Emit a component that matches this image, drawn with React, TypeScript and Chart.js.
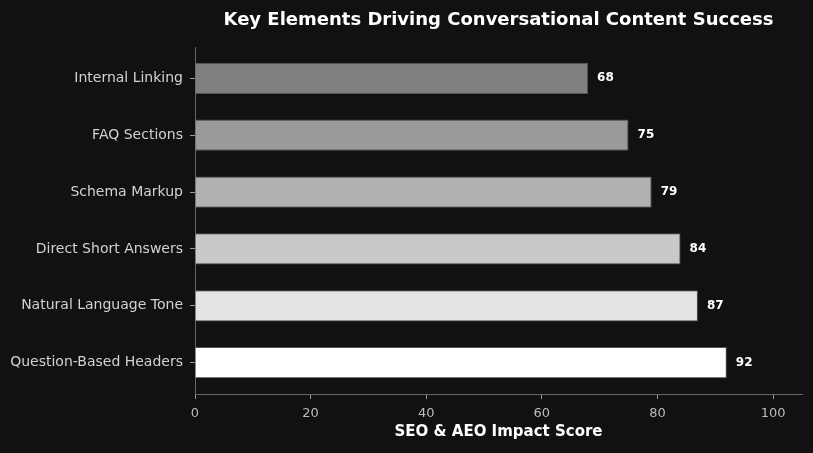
import React, { useEffect, useRef } from "react";
import { Chart, registerables } from "chart.js";

Chart.register(...registerables);

const categories: string[] = [
  "Internal Linking",
  "FAQ Sections",
  "Schema Markup",
  "Direct Short Answers",
  "Natural Language Tone",
  "Question-Based Headers",
];
const scores: number[] = [68, 75, 79, 84, 87, 92];
const barColors: string[] = ["#808080", "#9a9a9a", "#b0b2b2", "#cbc9c7", "#e4e4e4", "#ffffff"];
const xTicks: number[] = [0, 20, 40, 60, 80, 100];

const TITLE = "Key Elements Driving Conversational Content Success";
const X_TITLE = "SEO & AEO Impact Score";
const FONT = "'DejaVu Sans', sans-serif";

export default function App() {
  const ref = useRef<HTMLCanvasElement | null>(null);

  useEffect(() => {
    document.body.style.margin = "0";
    document.body.style.background = "#111111";
    const canvas = ref.current;
    if (!canvas) return;

    const bgPlugin = {
      id: "bg",
      beforeDraw(chart: any) {
        const { ctx } = chart;
        ctx.save();
        ctx.fillStyle = "#111111";
        ctx.fillRect(0, 0, chart.width, chart.height);
        ctx.restore();
      },
    };

    const textPlugin = {
      id: "texts",
      afterDraw(chart: any) {
        const { ctx, chartArea } = chart;
        const meta = chart.getDatasetMeta(0);
        ctx.save();
        ctx.fillStyle = "#ffffff";
        ctx.font = `bold 18px ${FONT}`;
        ctx.textAlign = "center";
        ctx.textBaseline = "middle";
        ctx.fillText(TITLE, (chartArea.left + chartArea.right) / 2, 20);
        ctx.font = `bold 15px ${FONT}`;
        ctx.fillText(X_TITLE, (chartArea.left + chartArea.right) / 2, 432);
        ctx.font = `bold 12px ${FONT}`;
        ctx.textAlign = "left";
        meta.data.forEach((bar: any, i: number) => {
          ctx.fillText(String(scores[i]), bar.x + 9, bar.y);
        });
        ctx.restore();
      },
    };

    const chart = new Chart(canvas, {
      type: "bar",
      data: {
        datasets: [
          {
            data: scores.map((v, i) => ({ x: v, y: i })),
            backgroundColor: barColors,
            borderColor: "#555555",
            borderWidth: 1,
            barPercentage: 0.55,
            categoryPercentage: 1,
          },
        ],
      },
      options: {
        indexAxis: "y",
        animation: false,
        responsive: false,
        devicePixelRatio: 1,
        layout: { padding: { top: 47, right: 11, left: 0, bottom: 0 } },
        plugins: {
          legend: { display: false },
          tooltip: { enabled: false },
          title: { display: false },
        },
        scales: {
          x: {
            type: "linear",
            min: 0,
            max: 105,
            offset: false,
            afterBuildTicks(scale: any) {
              scale.ticks = xTicks.map((v) => ({ value: v }));
            },
            afterFit(scale: any) {
              scale.height = 59;
            },
            border: { display: true, color: "#666666", width: 1 },
            grid: { drawOnChartArea: false, drawTicks: true, tickLength: 5, color: "#999999", offset: false },
            ticks: {
              color: "#bbbbbb",
              font: { family: FONT, size: 13 },
              padding: 7,
              maxRotation: 0,
            },
          },
          y: {
            type: "linear",
            min: -0.55,
            max: 5.55,
            reverse: true,
            offset: false,
            afterBuildTicks(scale: any) {
              scale.ticks = categories.map((_, i) => ({ value: i }));
            },
            afterFit(scale: any) {
              scale.width = 195;
            },
            border: { display: true, color: "#666666", width: 1 },
            grid: { drawOnChartArea: false, drawTicks: true, tickLength: 5, color: "#999999", offset: false },
            ticks: {
              color: "#d2d2d2",
              font: { family: FONT, size: 14 },
              padding: 7,
              callback: (v: any) => categories[Number(v)] ?? "",
            },
          },
        },
      },
      plugins: [bgPlugin, textPlugin],
    } as any);

    return () => chart.destroy();
  }, []);

  return (
    <div style={{ position: "absolute", left: 0, top: 0, width: 813, height: 453, background: "#111111" }}>
      <canvas ref={ref} width={813} height={453} style={{ width: 813, height: 453, display: "block" }} />
    </div>
  );
}
